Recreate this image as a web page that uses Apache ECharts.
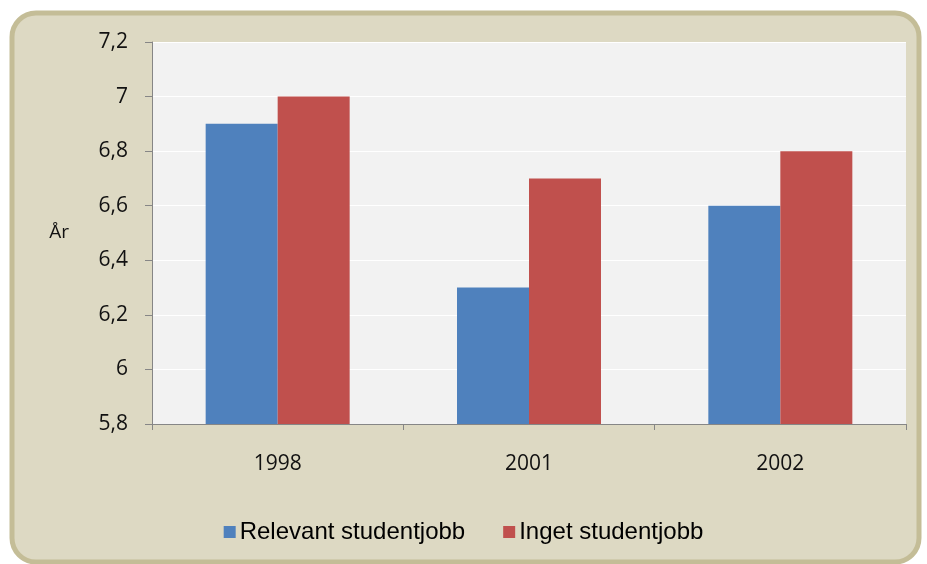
<!DOCTYPE html>
<html>
<head>
<meta charset="utf-8">
<script src="https://cdn.jsdelivr.net/npm/echarts@6/dist/echarts.min.js"></script>
<style>
  html, body { margin: 0; padding: 0; background: #ffffff; }
  #main { width: 927px; height: 564px; }
</style>
</head>
<body>
<div id="main"></div>
<script>
// år (kategorier) och serier
var years = ['1998', '2001', '2002'];
var relevant = [6.9, 6.3, 6.6];
var inget = [7.0, 6.7, 6.8];
var seriesNames = ['Relevant studentjobb', 'Inget studentjobb'];

var myChart = echarts.init(document.getElementById('main'));

var options = {
    backgroundColor: '#ffffff',
    animation: false,
    // ram runt diagrammet
    graphic: [{
        type: 'rect',
        z: -10,
        silent: true,
        shape: { x: 12, y: 13, width: 907, height: 549, r: 24 },
        style: { fill: '#ddd9c3', stroke: '#c4bd97', lineWidth: 5 }
    }],
    legend: {
        data: seriesNames,
        bottom: 15,
        left: 'center',
        icon: 'rect',
        itemWidth: 12,
        itemHeight: 12,
        itemGap: 38,
        textStyle: {
            fontFamily: 'Liberation Sans',
            fontSize: 24,
            color: '#000000',
            padding: [0, 0, 0, -1]
        }
    },
    grid: {
        left: 152,
        top: 42,
        right: 21,
        bottom: 140,
        show: true,
        backgroundColor: '#f2f2f2',
        borderWidth: 0
    },
    xAxis: {
        type: 'category',
        data: years,
        axisLine: { lineStyle: { color: '#868686', width: 1 } },
        axisTick: { show: true, length: 6, lineStyle: { color: '#868686' } },
        axisLabel: {
            fontFamily: 'Open Sans',
            fontSize: 21,
            color: '#111111',
            margin: 30
        }
    },
    yAxis: {
        type: 'value',
        min: 5.8,
        max: 7.2,
        interval: 0.2,
        name: 'År',
        nameLocation: 'middle',
        nameRotate: 0,
        nameGap: 83,
        nameTextStyle: { fontFamily: 'Open Sans', fontSize: 19, color: '#111111' },
        axisLine: { show: true, lineStyle: { color: '#868686', width: 1 } },
        axisTick: { show: true, length: 7, lineStyle: { color: '#868686' } },
        splitLine: { lineStyle: { color: '#ffffff', width: 1 } },
        axisLabel: {
            fontFamily: 'Open Sans',
            fontSize: 21,
            color: '#111111',
            margin: 24,
            formatter: function (v) {
                return (Math.round(v * 10) / 10).toString().replace('.', ',');
            }
        }
    },
    series: [{
        name: seriesNames[0],
        type: 'bar',
        data: relevant,
        barWidth: 72,
        barGap: '0%',
        itemStyle: { color: '#4f81bd' }
    }, {
        name: seriesNames[1],
        type: 'bar',
        data: inget,
        barWidth: 72,
        barGap: '0%',
        itemStyle: { color: '#c0504d' }
    }]
};

myChart.setOption(options, true);
</script>
</body>
</html>
